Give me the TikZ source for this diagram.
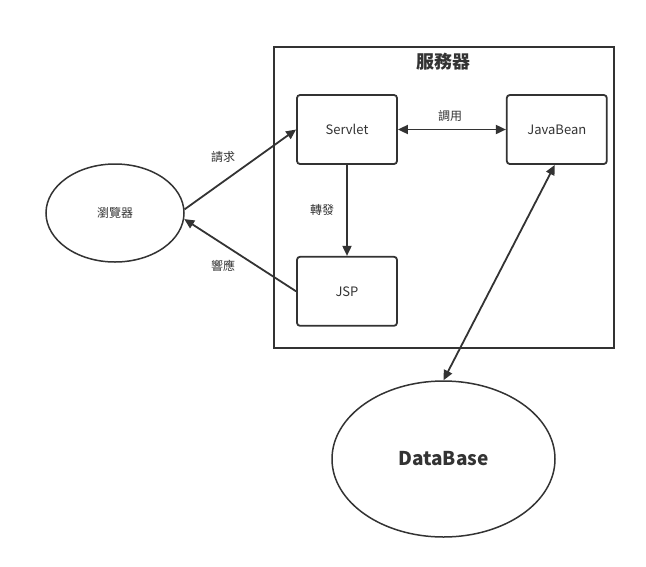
\documentclass[tikz,border=0pt]{standalone}
\usepackage{fontspec}
\setmainfont{Noto Sans CJK TC}
\usepackage{tikz}
\usetikzlibrary{shapes,arrows.meta,positioning}
\definecolor{ink}{HTML}{333333}
\tikzset{
    >={Triangle[length=10pt,width=9pt]},
    box/.style={draw=ink, line width=1.8pt, rounded corners=3pt, minimum width=100pt, minimum height=69pt, font=\fontsize{13}{15}\selectfont, text=ink},
    oval/.style={ellipse, draw=ink, line width=1.5pt, inner sep=0pt, text=ink},
    lbl/.style={font=\fontsize{12}{14}\selectfont, text=ink},
    link/.style={draw=ink, line width=1.8pt}
}
\begin{document}
\begin{tikzpicture}[x=1pt, y=-1pt]
\useasboundingbox (0,0) rectangle (646,566);
% Server frame
\node[draw=ink, line width=1.8pt, minimum width=340pt, minimum height=301pt] (server) at (444,197.5) {};
\node[font=\bfseries\fontsize{18}{20}\selectfont, text=ink] (title) at (443,62) {服務器};

% Nodes
\node[box] (servlet) at (347,129.5) {Servlet};
\node[box, right=108pt of servlet] (javabean) {JavaBean};
\node[box, below=91pt of servlet] (jsp) {JSP};
\node[oval, minimum width=138pt, minimum height=98pt, font=\fontsize{12}{14}\selectfont] (browser) at (115,213) {瀏覽器};
\node[oval, minimum width=223pt, minimum height=156pt, font=\bfseries\fontsize{19}{22}\selectfont] (database) at (443.5,459) {DataBase};

% Labels
\node[lbl] (req) at (223,157) {請求};
\node[lbl] (resp) at (223,266) {響應};
\node[lbl] (call) at (450,116) {調用};
\node[lbl] (fwd) at (322,210) {轉發};

% Arrows
\draw[link, ->] (browser.3) -- (servlet.west);
\draw[link, ->] (jsp.west) -- (browser.-5);
\draw[link, <->] (servlet) -- (javabean);
\draw[link, ->] (servlet) -- (jsp);
\draw[link, <->] ([xshift=-2pt]javabean.south) -- (database.north);
\end{tikzpicture}
\end{document}
